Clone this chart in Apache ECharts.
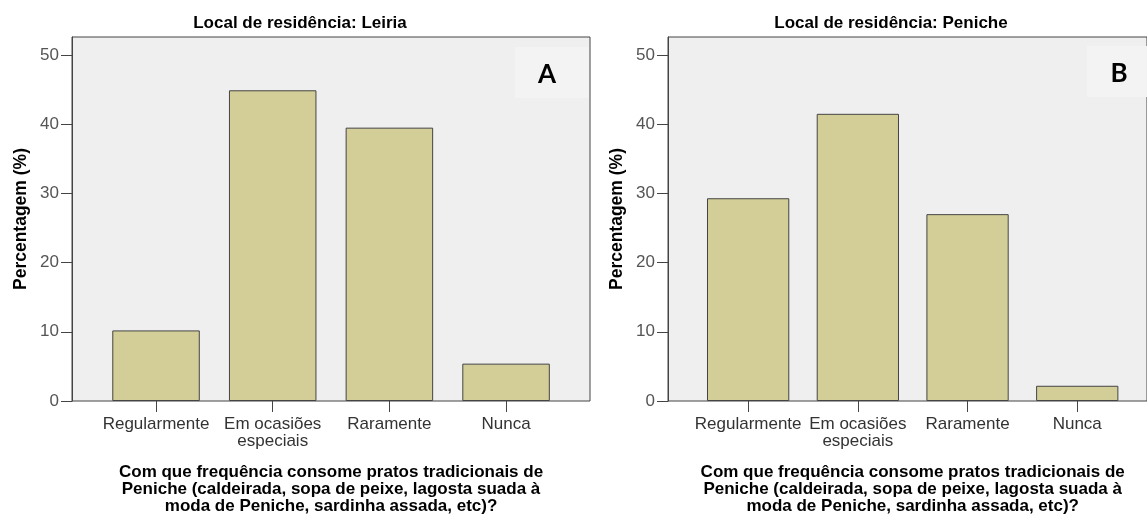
<!DOCTYPE html>
<html>
<head>
<meta charset="utf-8">
<script src="https://cdn.jsdelivr.net/npm/echarts@6/dist/echarts.min.js"></script>
<style>
html,body{margin:0;padding:0;background:#fff;}
#chart{width:1147px;height:523px;}
</style>
</head>
<body>
<div id="chart"></div>
<script>
const categories = ['Regularmente', 'Em ocasiões\nespeciais', 'Raramente', 'Nunca'];
const leiriaValues = [10.2, 44.9, 39.5, 5.4];
const penicheValues = [29.3, 41.5, 27.0, 2.2];
const yTicks = [0, 10, 20, 30, 40, 50];
const panelTitles = ['Local de residência: Leiria', 'Local de residência: Peniche'];
const panelLetters = ['A', 'B'];
const yAxisTitle = 'Percentagem (%)';
const xAxisTitle = 'Com que frequência consome pratos tradicionais de\nPeniche (caldeirada, sopa de peixe, lagosta suada à\nmoda de Peniche, sardinha assada, etc)?';

const FONT = '"Liberation Sans", Arial, sans-serif';
const Y_MAX = 52.6;
const TOP = 37, HEIGHT = 364;

const panels = [
  {outerLeft: 72, outerWidth: 518, innerLeft: 97.7, innerWidth: 466.7, values: leiriaValues, titleX: 295, letterBox: [515, 47, 74, 51]},
  {outerLeft: 668, outerWidth: 489, innerLeft: 693.3, innerWidth: 438.8, values: penicheValues, titleX: 886, letterBox: [1087, 46, 62, 51]}
];

const grid = [], xAxis = [], yAxis = [], series = [], title = [], graphic = [];
panels.forEach((p, i) => {
  const go = grid.length;
  grid.push({left: p.outerLeft, top: TOP, width: p.outerWidth, height: HEIGHT, show: true,
    backgroundColor: '#efefef', borderColor: '#444', borderWidth: 1});
  grid.push({left: p.innerLeft, top: TOP, width: p.innerWidth, height: HEIGHT});
  xAxis.push({gridIndex: go, type: 'value', show: false, min: 0, max: 1});
  yAxis.push({gridIndex: go, type: 'value', min: 0, max: Y_MAX,
    name: yAxisTitle, nameLocation: 'middle', nameGap: 42,
    nameTextStyle: {fontFamily: FONT, fontWeight: 'bold', fontSize: 17.5, color: '#000'},
    axisLine: {show: true, lineStyle: {color: '#444', width: 1}},
    axisTick: {show: true, length: 11, customValues: yTicks, lineStyle: {color: '#444', width: 1}},
    axisLabel: {customValues: yTicks, margin: 13, fontFamily: FONT, fontSize: 17, color: '#555'},
    splitLine: {show: false}
  });
  xAxis.push({gridIndex: go + 1, type: 'category', data: categories,
    axisLine: {show: false},
    axisTick: {show: true, alignWithLabel: true, length: 11, lineStyle: {color: '#444', width: 1}},
    axisLabel: {margin: 15, fontFamily: FONT, fontSize: 17, color: '#333', lineHeight: 17, interval: 0},
    name: xAxisTitle, nameLocation: 'middle', nameGap: 63,
    nameTextStyle: {fontFamily: FONT, fontWeight: 'bold', fontSize: 17, color: '#000', lineHeight: 17, verticalAlign: 'top'}
  });
  yAxis.push({gridIndex: go + 1, type: 'value', min: 0, max: Y_MAX, show: false, splitLine: {show: false}});
  series.push({type: 'bar', xAxisIndex: go + 1, yAxisIndex: go + 1, data: p.values,
    barCategoryGap: '25%', itemStyle: {color: '#d3ce97', borderColor: '#444', borderWidth: 1}});
  title.push({text: panelTitles[i], left: p.titleX, top: 10, textAlign: 'center',
    textStyle: {fontFamily: FONT, fontWeight: 'bold', fontSize: 17, color: '#000'}});
  const b = p.letterBox;
  graphic.push({type: 'rect', shape: {x: b[0], y: b[1], width: b[2], height: b[3]}, style: {fill: '#f3f3f3'}, z: 5});
  graphic.push({type: 'text', x: b[0] + 32, y: b[1] + 28, style: {text: panelLetters[i], font: 'bold 26px Lato, sans-serif', fill: '#000', textAlign: 'center', textVerticalAlign: 'middle'}, z: 6});
});

const chart = echarts.init(document.getElementById('chart'), null, {renderer: 'canvas'});
chart.setOption({animation: false, backgroundColor: '#fff', title, grid, xAxis, yAxis, series, graphic});
</script>
</body>
</html>
